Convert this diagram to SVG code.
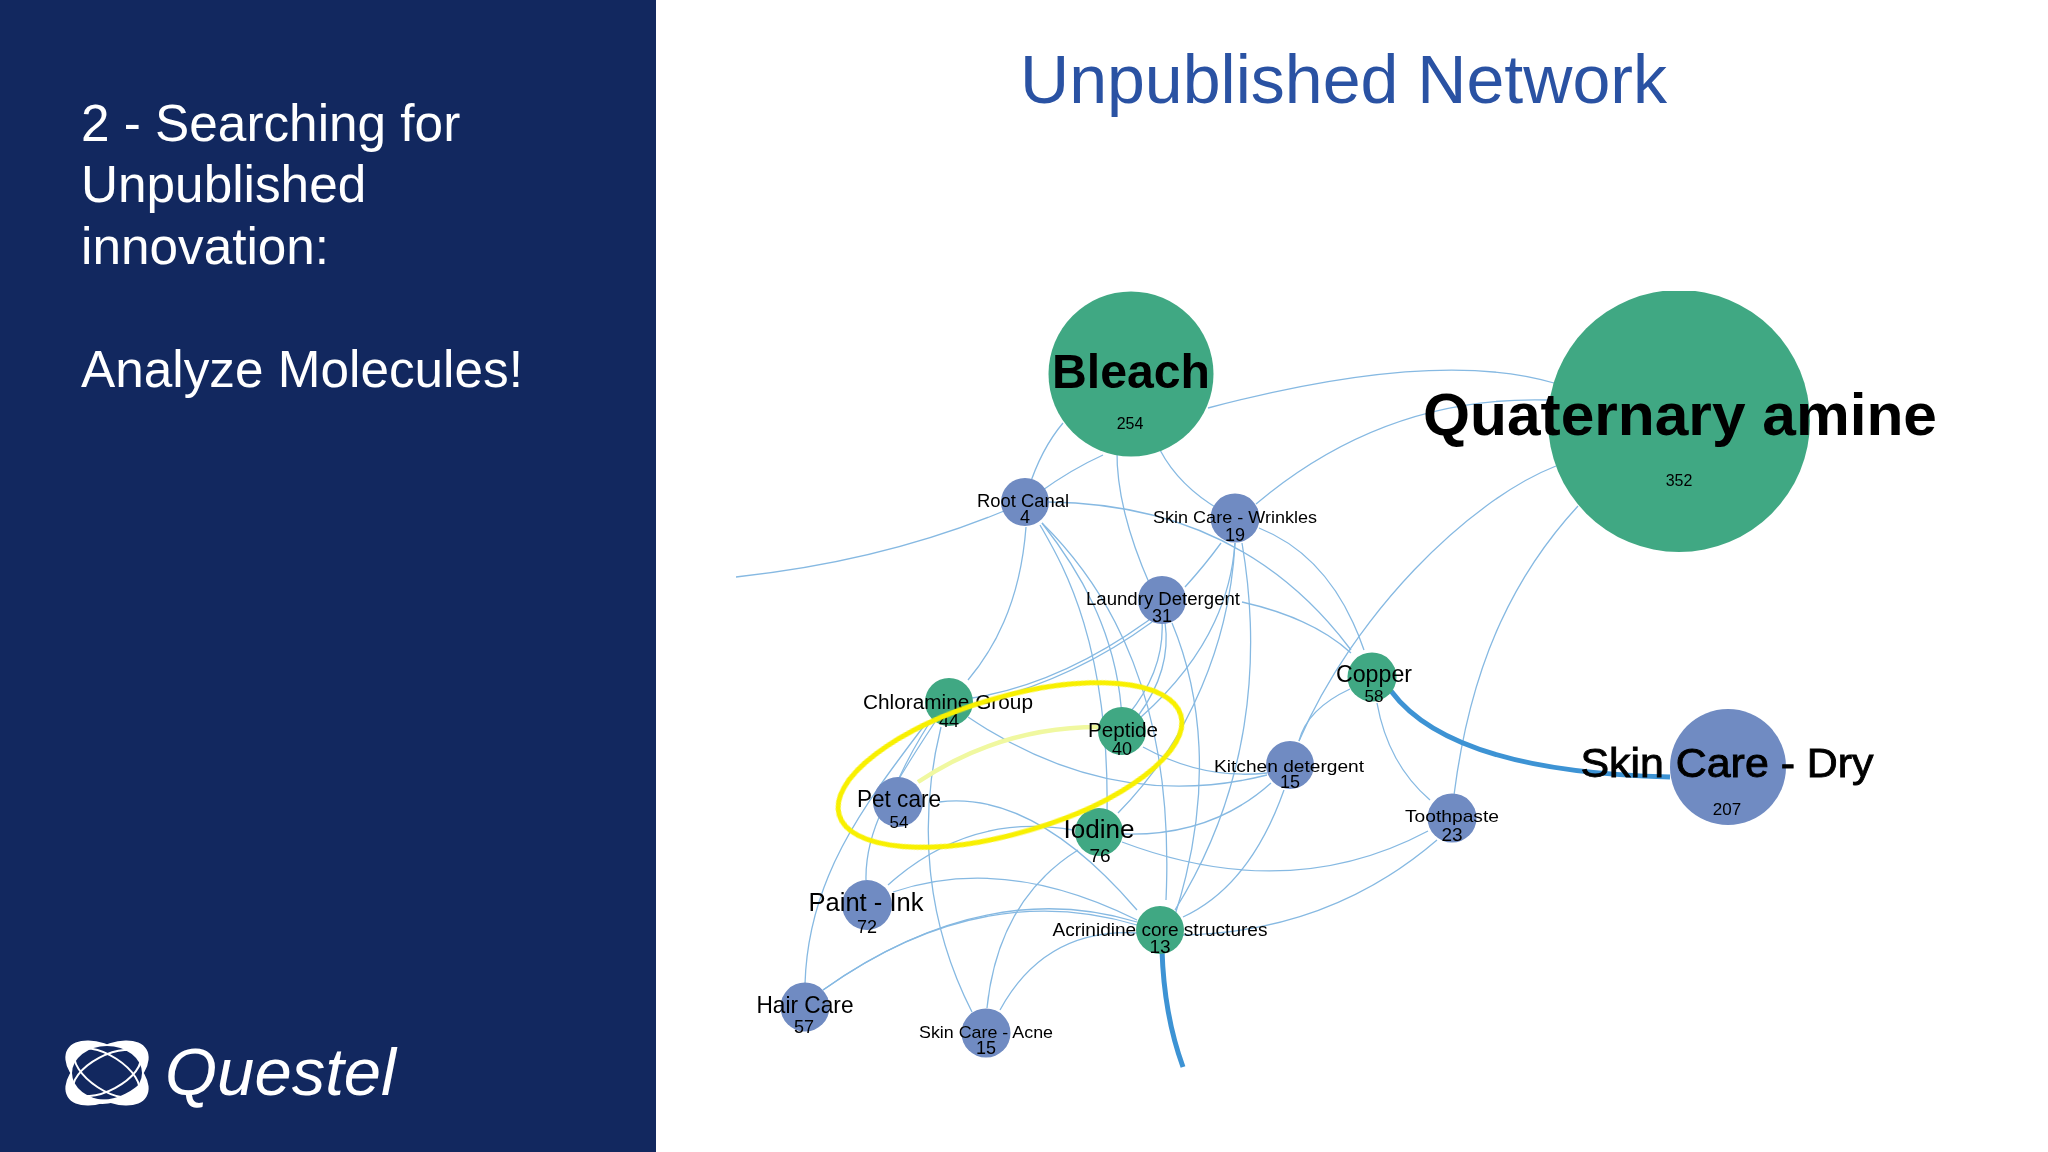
<svg xmlns="http://www.w3.org/2000/svg" width="2048" height="1152" viewBox="0 0 2048 1152">
<style>
text{font-family:"Liberation Sans",Arial,sans-serif;fill:#000}
.side{fill:#fff;font-size:51.3px}
.title{fill:#2a52a3;font-size:68px}
.g{fill:#41a883}.b{fill:#6f8bc2}
.n{text-anchor:middle}
.e{fill:none;stroke:#86b9e2;stroke-width:1.3}
.t{fill:none;stroke:#3d93d4;stroke-width:5}
</style>
<defs>
<clipPath id="top"><rect x="660" y="291" width="1388" height="861"/></clipPath>
<filter id="soft" x="-5%" y="-5%" width="110%" height="110%"><feGaussianBlur stdDeviation="0.5"/></filter>
</defs>
<rect width="2048" height="1152" fill="#fff"/>
<rect width="656" height="1152" fill="#12285f"/>
<g id="side-text">
<text class="side" x="81" y="141">2 - Searching for</text>
<text class="side" x="81" y="202">Unpublished</text>
<text class="side" x="81" y="264">innovation:</text>
<text class="side" x="81" y="387">Analyze Molecules!</text>
</g>
<text class="title" x="1020" y="103" textLength="647" lengthAdjust="spacingAndGlyphs">Unpublished Network</text>
<g id="logo">
<g transform="translate(107 1073)">
<ellipse rx="46" ry="26" transform="rotate(31)" fill="#fff"/>
<ellipse rx="46" ry="26" transform="rotate(-31)" fill="#fff"/>
<ellipse rx="35" ry="27" fill="#12285f"/>
<ellipse rx="37" ry="17" transform="rotate(33)" fill="none" stroke="#fff" stroke-width="2"/>
<ellipse rx="37" ry="17" transform="rotate(-28)" fill="none" stroke="#fff" stroke-width="2"/>
<path d="M-26 24C-8 38 22 30 36 8C24 20 2 32 -18 24Z" fill="#fff"/>
</g>
<text x="165" y="1095" font-size="67" font-style="italic" style="fill:#fff">Questel</text>
</g>
<g filter="url(#soft)">
<g id="connectors">
<path class="e" d="M1025,502Q895,560 736,577"/>
<path class="e" d="M1063,423Q1041,449 1028,490"/>
<path class="e" d="M1103,455Q1072,469 1040,492"/>
<path class="e" d="M1117,450Q1116,508 1150,585"/>
<path class="e" d="M1160,450Q1179,486 1220,510"/>
<path class="e" d="M1208,408Q1435,348 1554,383"/>
<path class="e" d="M1256,504Q1385,395 1549,400"/>
<path class="e" d="M1048,502Q1242,504 1351,650"/>
<path class="e" d="M1259,528Q1332,557 1364,650"/>
<path class="e" d="M1242,602Q1313,618 1351,653"/>
<path class="e" d="M1299,741C1353,616 1467,501 1556,466"/>
<path class="e" d="M1350,689Q1307,709 1299,741"/>
<path class="e" d="M1377,703Q1388,764 1430,800"/>
<path class="e" d="M1578,506C1510,580 1470,670 1454,795"/>
<path class="e" d="M1428,831Q1289,905 1122,842"/>
<path class="e" d="M1437,840Q1330,932 1183,935"/>
<path class="e" d="M1271,783Q1211,837 1122,834"/>
<path class="e" d="M1284,790Q1250,886 1183,917"/>
<path class="e" d="M1143,747Q1203,780 1267,773"/>
<path class="e" d="M968,717Q1112,814 1267,775"/>
<path class="e" d="M1149,620Q1060,684 972,698"/>
<path class="e" d="M1152,622Q1070,682 972,704"/>
<path class="e" d="M1040,525C1060,560 1110,640 1107,815"/>
<path class="e" d="M1042,523C1075,565 1118,630 1122,720"/>
<path class="e" d="M1042,523C1110,590 1175,700 1166,900"/>
<path class="e" d="M1162,620Q1165,670 1128,715"/>
<path class="e" d="M1165,622Q1172,670 1138,716"/>
<path class="e" d="M1172,623C1200,690 1215,790 1175,915"/>
<path class="e" d="M1221,543Q1205,565 1185,587"/>
<path class="e" d="M1235,543Q1228,640 1141,717"/>
<path class="e" d="M1235,543C1230,640 1190,740 1118,813"/>
<path class="e" d="M1242,543C1262,660 1250,790 1175,910"/>
<path class="e" d="M939,802Q1034,790 1137,910"/>
<path class="e" d="M888,885Q969,812 1073,830"/>
<path class="e" d="M893,892Q1005,854 1137,920"/>
<path class="e" d="M823,990Q980,878 1137,925"/>
<path class="e" d="M823,990Q985,876 1137,922"/>
<path class="e" d="M987,1008C995,930 1030,880 1078,850"/>
<path class="e" d="M1000,1010Q1045,928 1137,933"/>
<path class="e" d="M1026,527Q1019,620 968,680"/>
<path class="e" d="M930,722Q912,750 899,778"/>
<path class="e" d="M935,722C890,790 865,830 866,880"/>
<path class="e" d="M927,722C860,810 808,880 805,984"/>
<path class="e" d="M941,727C918,820 925,920 972,1012"/>
<path class="t" d="M1391,691Q1451,772 1670,777"/>
<path class="t" d="M1162,950Q1164,1015 1183,1067"/>
<path d="M918,782Q1000,727 1099,727" fill="none" stroke="#f0f8a0" stroke-width="4.5"/>
</g>
<g id="bleach"><circle class="g" cx="1131" cy="374" r="82.5" clip-path="url(#top)"/><text class="n" x="1131" y="388" font-size="48" font-weight="bold" textLength="158" lengthAdjust="spacingAndGlyphs">Bleach</text><text class="n" x="1130" y="429" font-size="16">254</text></g>
<g id="quaternary-amine"><circle class="g" cx="1679" cy="421" r="131" clip-path="url(#top)"/><text class="n" x="1680" y="435" font-size="60" font-weight="bold" textLength="514" lengthAdjust="spacingAndGlyphs">Quaternary amine</text><text class="n" x="1679" y="486" font-size="16">352</text></g>
<g id="skin-care-dry"><circle class="b" cx="1728" cy="767" r="58"/><text class="n" x="1727" y="777" font-size="41" stroke="#000" stroke-width="0.9" textLength="293" lengthAdjust="spacingAndGlyphs">Skin Care - Dry</text><text class="n" x="1727" y="815" font-size="17">207</text></g>
<g id="root-canal"><circle class="b" cx="1025" cy="502" r="24"/><text class="n" x="1023" y="507" font-size="18" textLength="92" lengthAdjust="spacingAndGlyphs">Root Canal</text><text class="n" x="1025" y="523" font-size="18">4</text></g>
<g id="skin-care-wrinkles"><circle class="b" cx="1235" cy="518" r="24.5"/><text class="n" x="1235" y="523" font-size="17" textLength="164" lengthAdjust="spacingAndGlyphs">Skin Care - Wrinkles</text><text class="n" x="1235" y="541" font-size="18">19</text></g>
<g id="laundry-detergent"><circle class="b" cx="1162" cy="600" r="24"/><text class="n" x="1163" y="605" font-size="18" textLength="154" lengthAdjust="spacingAndGlyphs">Laundry Detergent</text><text class="n" x="1162" y="622" font-size="18">31</text></g>
<g id="chloramine-group"><circle class="g" cx="949" cy="702" r="24"/><text class="n" x="948" y="709" font-size="20" textLength="170" lengthAdjust="spacingAndGlyphs">Chloramine Group</text><text class="n" x="949" y="727" font-size="18">44</text></g>
<g id="peptide"><circle class="g" cx="1122" cy="731" r="24"/><text class="n" x="1123" y="737" font-size="21" textLength="70" lengthAdjust="spacingAndGlyphs">Peptide</text><text class="n" x="1122" y="755" font-size="18">40</text></g>
<g id="pet-care"><circle class="b" cx="898" cy="802" r="25"/><text class="n" x="899" y="807" font-size="24" textLength="84" lengthAdjust="spacingAndGlyphs">Pet care</text><text class="n" x="899" y="828" font-size="17">54</text></g>
<g id="iodine"><circle class="g" cx="1099" cy="832" r="24"/><text class="n" x="1099" y="838" font-size="26" textLength="71" lengthAdjust="spacingAndGlyphs">Iodine</text><text class="n" x="1100" y="862" font-size="19">76</text></g>
<g id="kitchen-detergent"><circle class="b" cx="1290" cy="765" r="24"/><text class="n" x="1289" y="772" font-size="17" textLength="150" lengthAdjust="spacingAndGlyphs">Kitchen detergent</text><text class="n" x="1290" y="788" font-size="18">15</text></g>
<g id="paint-ink"><circle class="b" cx="867" cy="905" r="25"/><text class="n" x="866" y="911" font-size="26" textLength="115" lengthAdjust="spacingAndGlyphs">Paint - Ink</text><text class="n" x="867" y="933" font-size="18">72</text></g>
<g id="acrinidine"><circle class="g" cx="1160" cy="930" r="24"/><text class="n" x="1160" y="936" font-size="18" textLength="215" lengthAdjust="spacingAndGlyphs">Acrinidine core structures</text><text class="n" x="1160" y="953" font-size="19">13</text></g>
<g id="hair-care"><circle class="b" cx="805" cy="1007" r="24.5"/><text class="n" x="805" y="1013" font-size="24" textLength="97" lengthAdjust="spacingAndGlyphs">Hair Care</text><text class="n" x="804" y="1033" font-size="18">57</text></g>
<g id="skin-care-acne"><circle class="b" cx="986" cy="1033" r="24.5"/><text class="n" x="986" y="1038" font-size="17" textLength="134" lengthAdjust="spacingAndGlyphs">Skin Care - Acne</text><text class="n" x="986" y="1054" font-size="18">15</text></g>
<g id="copper"><circle class="g" cx="1372" cy="677" r="24.5"/><text class="n" x="1374" y="682" font-size="24" textLength="76" lengthAdjust="spacingAndGlyphs">Copper</text><text class="n" x="1374" y="702" font-size="17">58</text></g>
<g id="toothpaste"><circle class="b" cx="1452" cy="818" r="24.5"/><text class="n" x="1452" y="822" font-size="17" textLength="94" lengthAdjust="spacingAndGlyphs">Toothpaste</text><text class="n" x="1452" y="841" font-size="19">23</text></g>
</g>
<ellipse id="highlight" cx="1010" cy="765" rx="178" ry="68" transform="rotate(-16.3 1010 765)" fill="none" stroke="#f8f000" stroke-width="5"/>
</svg>
